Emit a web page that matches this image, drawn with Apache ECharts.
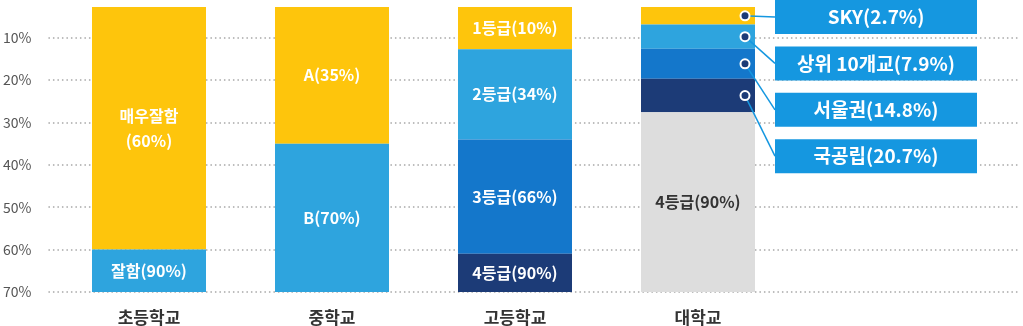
<!DOCTYPE html>
<html>
<head>
<meta charset="utf-8">
<script src="https://cdn.jsdelivr.net/npm/echarts@6/dist/echarts.min.js"></script>
<style>
  html, body { margin: 0; padding: 0; background: #fff; }
  #chart { width: 1023px; height: 326px; }
</style>
</head>
<body>
<div id="chart"></div>
<script>
// School stages along the x axis
const categories = ['초등학교', '중학교', '고등학교', '대학교'];

// Vertical scale (top of the bars down to the 70% line)
const axisTop = 2.75;
const axisBottom = 70;

// Lower edge of each stacked segment, listed from top to bottom
const elementaryEnds = [60, 70];
const middleEnds = [35, 70];
const highEnds = [12.7, 34, 61, 70];
const universityEnds = [6.9, 12.6, 19.7, 27.6, 70];

// Segment captions
const elementaryNames = ['매우잘함\n(60%)', '잘함(90%)'];
const middleNames = ['A(35%)', 'B(70%)'];
const highNames = ['1등급(10%)', '2등급(34%)', '3등급(66%)', '4등급(90%)'];
const universityNames = ['SKY(2.7%)', '상위 10개교(7.9%)', '서울권(14.8%)', '국공립(20.7%)', '4등급(90%)'];

// The first four university segments get callout boxes instead of inner labels
const universityCallouts = 4;

const levelColors = ['#FEC50C', '#2EA4DE', '#1477CB', '#1C3B77', '#DDDDDD'];
const calloutColor = '#1597E0';
const FONT = '"Noto Sans CJK KR", "Noto Sans", sans-serif';

const ends = [elementaryEnds, middleEnds, highEnds, universityEnds];
const names = [elementaryNames, middleNames, highNames, universityNames];
const levels = Math.max(...ends.map(e => e.length));

const series = [{
  // transparent spacer so every stack starts at the top edge
  type: 'bar', stack: 'stage', xAxisIndex: 1, yAxisIndex: 1,
  barWidth: 114, silent: true,
  itemStyle: { color: 'rgba(0,0,0,0)' },
  data: categories.map(() => axisTop)
}];

for (let lv = 0; lv < levels; lv++) {
  series.push({
    type: 'bar', stack: 'stage', xAxisIndex: 1, yAxisIndex: 1,
    barWidth: 114,
    itemStyle: { color: levelColors[lv] },
    label: {
      show: true, position: 'inside',
      fontFamily: FONT, fontWeight: 'bold', fontSize: 16, lineHeight: 25,
      formatter: p => names[p.dataIndex][lv]
    },
    data: ends.map((e, ci) => {
      if (lv >= e.length) return '-';
      const prev = lv === 0 ? axisTop : e[lv - 1];
      const callout = ci === 3 && lv < universityCallouts;
      return {
        value: +(e[lv] - prev).toFixed(3),
        label: { show: !callout, color: lv === 4 ? '#333' : '#fff' }
      };
    })
  });
}

// Marker dots with callout boxes for the upper university segments
series.push({
  type: 'scatter', xAxisIndex: 1, yAxisIndex: 1, z: 5,
  symbol: 'circle', symbolSize: 9, symbolOffset: [47, 0],
  itemStyle: { color: '#1C3B77', borderColor: '#fff', borderWidth: 2, opacity: 1 },
  data: universityEnds.slice(0, universityCallouts).map((end, i) => {
    const start = i === 0 ? axisTop : universityEnds[i - 1];
    return [categories[3], (start + end) / 2];
  }),
  label: {
    show: true,
    formatter: p => universityNames[p.dataIndex],
    backgroundColor: calloutColor, color: '#fff',
    fontFamily: FONT, fontWeight: 'bold', fontSize: 19,
    width: 202, height: 34, lineHeight: 34, align: 'center', verticalAlign: 'middle'
  },
  labelLayout: p => ({
    x: 876, y: 17 + p.dataIndex * 46.4, align: 'center', verticalAlign: 'middle'
  }),
  labelLine: { show: true, lineStyle: { color: calloutColor, width: 1.5, opacity: 1 } }
});

const chart = echarts.init(document.getElementById('chart'), null, { renderer: 'canvas' });
chart.setOption({
  animation: false,
  grid: [
    { left: 45, right: 3, top: 7, bottom: 34 },
    { left: 57.5, width: 732, top: 7, bottom: 34 }
  ],
  xAxis: [
    { gridIndex: 0, type: 'category', data: [''], show: false },
    {
      gridIndex: 1, type: 'category', data: categories,
      axisLine: { show: false }, axisTick: { show: false },
      axisLabel: { fontFamily: FONT, fontSize: 17, fontWeight: 'bold', color: '#333', margin: 17 }
    }
  ],
  yAxis: [
    {
      gridIndex: 0, type: 'value', inverse: true, min: axisTop, max: axisBottom,
      splitNumber: 7,
      axisLine: { show: false }, axisTick: { show: false },
      axisLabel: {
        fontFamily: FONT, fontSize: 14, color: '#555', margin: 17,
        showMinLabel: false,
        formatter: v => (v % 10 === 0 ? v + '%' : '')
      },
      splitLine: {
        show: true, showMinLine: false,
        lineStyle: { color: '#A8A8A8', width: 1.5, type: [1.5, 3] }
      }
    },
    {
      gridIndex: 1, type: 'value', inverse: true, min: axisTop, max: axisBottom,
      show: false, splitLine: { show: false }
    }
  ],
  series
});
</script>
</body>
</html>
